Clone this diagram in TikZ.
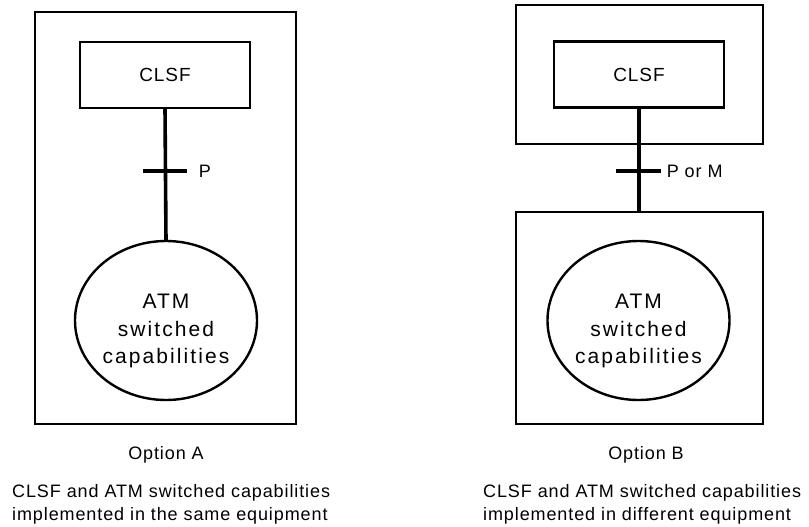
\documentclass[tikz,border=0pt]{standalone}
\usepackage{fontspec}
\setmainfont{Liberation Sans}[LetterSpace=5]
\usetikzlibrary{shapes.geometric}
\tikzset{
  equip/.style={draw, line width=2.8pt, inner sep=0pt, outer sep=0pt},
  clsf/.style={draw, line width=2.8pt, minimum width=170pt, minimum height=66pt, inner sep=0pt, outer sep=0pt, font=\fontsize{19}{22}\selectfont},
  atm/.style={ellipse, draw, line width=2.4pt, minimum width=182pt, minimum height=159pt, inner sep=0pt, outer sep=0pt},
  atmtext/.style={align=center, inner sep=0pt, font=\fontsize{21}{27.5}\selectfont\addfontfeatures{LetterSpace=10}},
  iface/.style={line width=3.6pt},
  lab/.style={font=\fontsize{18}{23}\selectfont, inner sep=0pt}
}
\begin{document}
\begin{tikzpicture}[x=1pt,y=-1pt]
  \useasboundingbox (0,0) rectangle (809,527);

  % Option A
  \node[equip, minimum width=261pt, minimum height=412pt] (equipA) at (165.5,218) {};
  \node[clsf] (clsfA) at (165,75) {CLSF};
  \node[atm] (atmA) at (166,320.5) {};
  \node[atmtext] (atmAtext) at (166,331) {ATM\\switched\\capabilities};
  \draw[iface] (clsfA.south) -- (atmA.north);
  \coordinate (tickA) at (165,171);
  \draw[iface] ([xshift=-22pt]tickA) -- ([xshift=22pt]tickA) node[lab, right=10pt] (refA) {P};

  % Option B
  \node[equip, minimum width=247pt, minimum height=139pt] (equipBtop) at (639.5,74.5) {};
  \node[equip, minimum width=247pt, minimum height=212pt] (equipBlow) at (639.5,318) {};
  \node[clsf] (clsfB) at (639,74.5) {CLSF};
  \node[atm] (atmB) at (638.5,320.5) {};
  \node[atmtext] (atmBtext) at (638.5,331) {ATM\\switched\\capabilities};
  \draw[iface] (clsfB.south) -- (clsfB.south |- equipBlow.north);
  \coordinate (tickB) at (639,171);
  \draw[iface] ([xshift=-23pt]tickB) -- ([xshift=22pt]tickB) node[lab, right=4pt] (refB) {P or M};

  % captions
  \node[lab, anchor=base] (optA) at (166,459) {Option A};
  \node[lab, anchor=base] (optB) at (646,459) {Option B};
  \node[lab, anchor=base west, align=left] (capA) at (12,520) {CLSF and ATM switched capabilities\\implemented in the same equipment};
  \node[lab, anchor=base west, align=left] (capB) at (483,520) {CLSF and ATM switched capabilities\\implemented in different equipment};
\end{tikzpicture}
\end{document}
